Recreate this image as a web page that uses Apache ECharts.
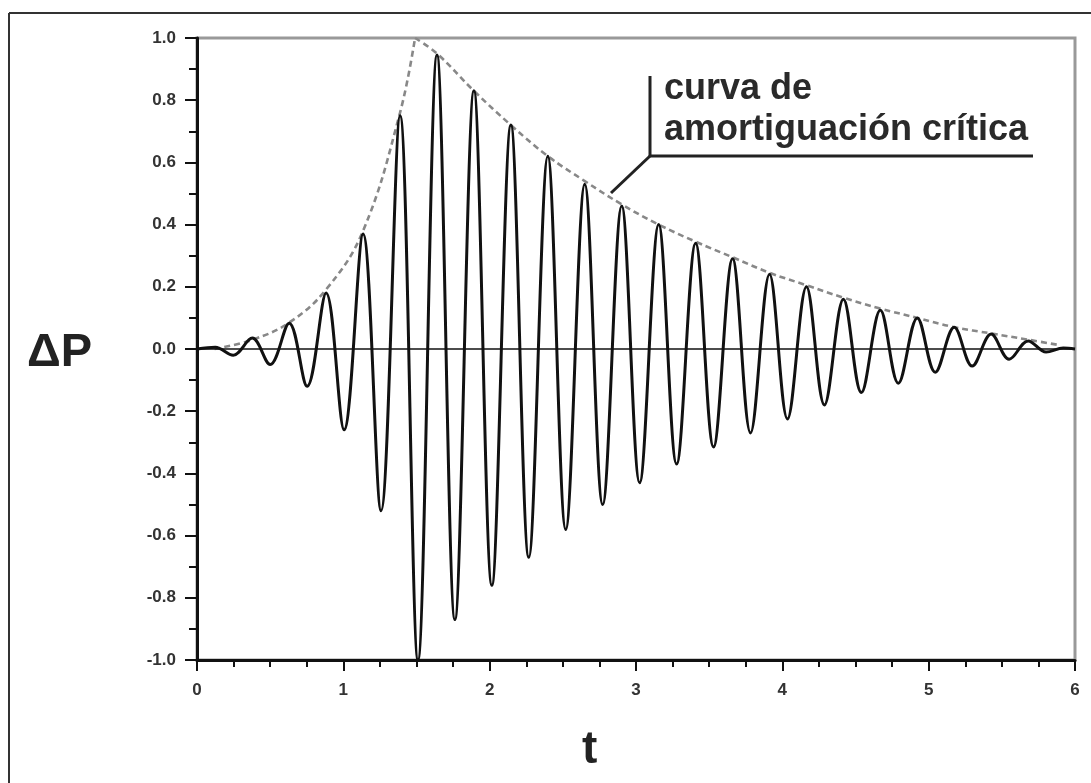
<!DOCTYPE html>
<html>
<head>
<meta charset="utf-8">
<script src="https://cdn.jsdelivr.net/npm/echarts@6/dist/echarts.min.js"></script>
<style>
html,body{margin:0;padding:0;background:#fff;}
#c{width:1091px;height:783px;}
</style>
</head>
<body>
<div id="c"></div>
<script>
// Oscillation extremes: [t, ΔP]
var signalPoints = [
  [0.00, 0.000], [0.125, 0.006],
  [0.2475, -0.02], [0.3775, 0.035], [0.50, -0.05], [0.63, 0.083],
  [0.7525, -0.12], [0.8825, 0.18], [1.005, -0.26], [1.135, 0.37],
  [1.2575, -0.52], [1.3875, 0.75], [1.51, -1.00], [1.64, 0.945],
  [1.7625, -0.87], [1.8925, 0.83], [2.015, -0.76], [2.145, 0.72],
  [2.2675, -0.67], [2.3975, 0.62], [2.52, -0.58], [2.65, 0.53],
  [2.7725, -0.50], [2.9025, 0.46], [3.025, -0.43], [3.155, 0.40],
  [3.2775, -0.37], [3.4075, 0.34], [3.53, -0.315], [3.66, 0.29],
  [3.7825, -0.27], [3.9125, 0.24], [4.035, -0.225], [4.165, 0.20],
  [4.2875, -0.18], [4.4175, 0.16], [4.54, -0.14], [4.67, 0.125],
  [4.7925, -0.11], [4.9225, 0.10], [5.045, -0.075], [5.175, 0.07],
  [5.2975, -0.055], [5.4275, 0.048], [5.55, -0.033], [5.68, 0.026],
  [5.8025, -0.01], [5.92, 0.003], [6.00, 0.000]
];
// Dashed critical-damping envelope
var envelopeRise = [
  [0.12, 0.0], [0.38, 0.03], [0.63, 0.085], [0.88, 0.19],
  [1.135, 0.38], [1.3875, 0.76], [1.49, 1.0]
];
var envelopeFall = [
  [1.49, 1.0], [1.64, 0.95], [1.8925, 0.83], [2.145, 0.72],
  [2.3975, 0.62], [2.65, 0.54], [2.9025, 0.465], [3.155, 0.40],
  [3.4075, 0.345], [3.66, 0.295], [3.9125, 0.245], [4.165, 0.205],
  [4.4175, 0.165], [4.67, 0.13], [4.9225, 0.10], [5.175, 0.07],
  [5.4275, 0.05], [5.68, 0.03], [5.90, 0.012]
];
var xTicks = { min: 0, max: 6, interval: 1 };
var yTicks = { min: -1, max: 1, interval: 0.2 };
var yLabel = 'ΔP';
var xLabel = 't';
var noteLines = ['curva de', 'amortiguación crítica'];

var chart = echarts.init(document.getElementById('c'), null, {renderer: 'canvas'});
var labelFont = {color: '#333', fontWeight: 'bold', fontSize: 17, fontFamily: 'Liberation Sans, Arial, sans-serif'};
chart.setOption({
  animation: false,
  backgroundColor: '#fff',
  grid: {left: 197, right: 16, top: 38, bottom: 123, show: true, borderColor: '#999', borderWidth: 3},
  xAxis: {
    type: 'value', min: xTicks.min, max: xTicks.max, interval: xTicks.interval,
    axisLine: {show: true, onZero: false, lineStyle: {color: '#111', width: 3}},
    axisTick: {show: true, length: 11, lineStyle: {color: '#111', width: 2}},
    minorTick: {show: true, splitNumber: 4, length: 7, lineStyle: {color: '#111', width: 2}},
    splitLine: {show: false},
    axisLabel: Object.assign({margin: 22}, labelFont)
  },
  yAxis: {
    type: 'value', min: yTicks.min, max: yTicks.max, interval: yTicks.interval,
    axisLine: {show: true, onZero: false, lineStyle: {color: '#111', width: 3}},
    axisTick: {show: true, length: 12, lineStyle: {color: '#111', width: 2}},
    minorTick: {show: true, splitNumber: 2, length: 8, lineStyle: {color: '#111', width: 2}},
    splitLine: {show: false},
    axisLabel: Object.assign({margin: 21, formatter: function (v) { return v.toFixed(1); }}, labelFont)
  },
  series: [
    {
      type: 'line', data: envelopeRise, smooth: 0.4, symbol: 'none', z: 2,
      lineStyle: {color: '#888', width: 2.6, type: [6, 4]}
    },
    {
      type: 'line', data: envelopeFall, smooth: 0.4, symbol: 'none', z: 2,
      lineStyle: {color: '#888', width: 2.6, type: [6, 4]}
    },
    {
      type: 'line', data: signalPoints, smooth: 0.36, symbol: 'none', z: 3,
      lineStyle: {color: '#111', width: 3},
      markLine: {
        silent: true, symbol: 'none', label: {show: false},
        lineStyle: {color: '#111', width: 1.6, type: 'solid'},
        data: [{yAxis: 0}]
      }
    }
  ],
  graphic: [
    {type: 'line', shape: {x1: 9, y1: 13, x2: 1091, y2: 13}, style: {stroke: '#333', lineWidth: 2}},
    {type: 'line', shape: {x1: 9, y1: 13, x2: 9, y2: 783}, style: {stroke: '#333', lineWidth: 2}},
    {type: 'text', left: 27, top: 330, style: {text: yLabel, font: 'bold 47px "Liberation Sans", Arial, sans-serif', fill: '#222'}},
    {type: 'text', left: 582, top: 727, style: {text: xLabel, font: 'bold 46px "Liberation Sans", Arial, sans-serif', fill: '#222'}},
    {type: 'polyline', shape: {points: [[650, 76], [650, 156], [1033, 156]]}, style: {stroke: '#222', lineWidth: 3, fill: null}},
    {type: 'line', shape: {x1: 650, y1: 156, x2: 611, y2: 193}, style: {stroke: '#222', lineWidth: 3}},
    {type: 'text', left: 664, top: 71, style: {text: noteLines[0], font: 'bold 36px "Liberation Sans", Arial, sans-serif', fill: '#2a2a2a'}},
    {type: 'text', left: 664, top: 112, style: {text: noteLines[1], font: 'bold 36px "Liberation Sans", Arial, sans-serif', fill: '#2a2a2a'}}
  ]
});
</script>
</body>
</html>
